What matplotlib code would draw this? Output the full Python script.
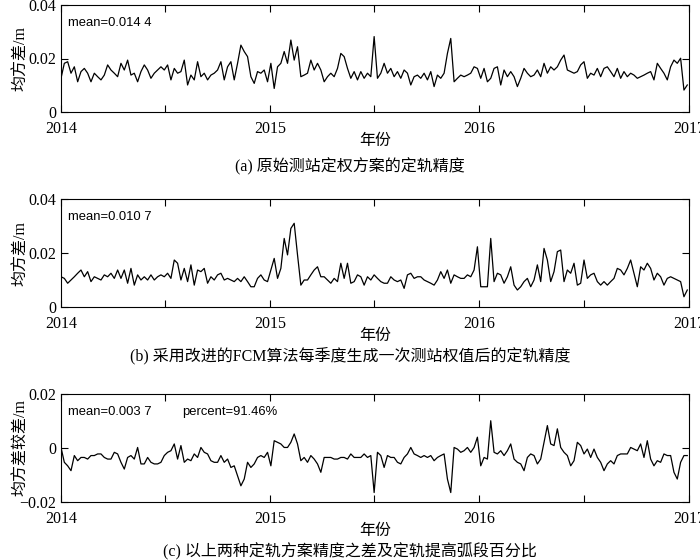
"""Orbit precision time series for the two station weighting schemes."""

import matplotlib

matplotlib.use("Agg")
import matplotlib.pyplot as plt
import numpy as np
import pandas as pd

plt.rcParams["font.family"] = ["Liberation Serif", "Noto Sans CJK SC"]
plt.rcParams["font.size"] = 10
plt.rcParams["axes.unicode_minus"] = True

rms_original_mm = [
    12.6, 18.2, 18.8, 14.5, 16.9, 11.3, 15.1, 16.3, 14.5, 11.3,
    14.5, 13.2, 12.0, 13.8, 17.6, 15.7, 14.5, 13.2, 18.2, 15.7,
    19.4, 13.8, 14.5, 11.3, 15.1, 17.6, 15.7, 12.6, 14.5, 15.7,
    16.9, 15.7, 17.6, 12.0, 16.3, 14.5, 15.1, 19.4, 10.1, 13.8,
    12.0, 18.8, 13.2, 14.5, 12.0, 13.8, 14.5, 15.7, 18.8, 12.0,
    16.9, 18.8, 12.0, 18.2, 25.0, 22.6, 20.7, 13.2, 10.7, 15.1,
    14.5, 15.7, 11.3, 18.2,
    8.8, 16.9, 18.2, 22.6, 18.2, 26.9, 19.4, 24.4, 13.2, 13.8,
    14.5, 19.4, 15.7, 18.2, 15.7, 11.3, 13.2, 14.5, 13.2, 16.3,
    21.9, 20.7, 16.3, 12.6, 15.1, 12.0, 15.1, 12.6, 14.5, 13.2,
    28.2, 12.6, 14.5, 18.2, 14.5, 16.3, 13.2, 15.1, 12.6, 15.7,
    14.5, 10.1, 13.2, 13.8, 12.6, 14.5, 12.0, 15.1, 9.5, 13.8,
    12.6, 14.5, 21.9, 27.5, 11.3, 12.6, 13.8, 13.2, 13.8, 14.5,
    16.9, 16.3, 12.6,
    16.3, 11.3, 12.6, 16.3, 16.9, 10.1, 15.7, 13.2, 15.1, 13.2,
    9.5, 12.6, 16.3, 14.5, 13.2, 13.8, 15.7, 13.2, 18.2, 14.5,
    16.9, 15.7, 16.9, 19.4, 21.3, 15.7, 15.1, 14.5, 15.1, 17.6,
    18.8, 12.6, 14.5, 13.8, 16.3, 13.2, 16.3, 16.9, 15.1, 13.2,
    16.3, 12.6, 15.1, 13.2, 14.5, 13.8, 12.6, 13.2, 13.8, 14.5,
    15.1, 12.0, 18.2, 16.3, 14.5, 12.0, 16.9, 19.4, 18.2, 20.1,
    8.2, 10.1,
]

rms_fcm_mm = [
    11.2, 10.6, 8.8, 10.0, 11.2, 12.5, 13.7, 11.2, 13.1, 9.4,
    11.2, 10.6, 10.0, 11.9, 11.2, 12.5, 10.6, 13.7, 10.6, 13.7,
    8.8, 14.3, 8.1, 11.9, 10.0, 11.2, 10.0, 11.9, 10.0, 11.2,
    11.9, 11.2, 12.5, 10.6, 17.4, 16.2, 10.0, 14.3, 9.4, 15.6,
    8.1, 13.7, 13.1, 14.3, 8.8, 11.2, 10.0, 11.9, 12.5, 10.0,
    10.6, 10.0, 9.4, 10.6, 9.4, 11.2, 9.4, 7.5, 7.5, 10.6,
    11.9, 10.0, 9.4, 13.7,
    18.0, 10.6, 14.3, 25.4, 19.3, 29.1, 31.0, 19.3, 8.1, 10.0,
    10.0, 11.9, 13.7, 14.9, 11.2, 11.2, 10.0, 8.8, 10.6, 9.4,
    16.2, 10.6, 16.2, 8.8, 9.4, 11.9, 11.2, 8.1, 11.2, 10.0,
    11.9, 10.6, 9.4, 8.8, 8.8, 11.2, 10.0, 9.4, 10.0, 6.9,
    11.9, 12.5, 10.6, 11.2, 11.2, 10.0, 9.4, 8.8, 8.1, 10.0,
    13.1, 10.6, 13.7, 8.8, 11.9, 11.2, 10.6, 10.6, 11.9, 11.2,
    13.7, 22.3, 7.5,
    7.5, 7.5, 25.4, 9.4, 12.5, 11.9, 8.8, 11.2, 14.9, 8.1,
    6.3, 7.5, 9.4, 10.6, 7.5, 10.0, 15.6, 9.4, 21.7, 17.4,
    9.4, 13.1, 20.5, 21.1, 9.4, 13.7, 12.5, 16.2, 8.1, 8.8,
    17.4, 10.6, 11.9, 12.5, 9.4, 8.1, 9.4, 8.1, 9.4, 10.6,
    14.3, 13.7, 11.9, 14.3, 17.4, 12.5, 7.5, 14.9, 13.7, 16.2,
    14.3, 10.0, 12.5, 11.2, 8.1, 10.6, 11.2, 10.6, 10.0, 9.4,
    3.8, 6.3,
]

rms_diff_mm = [
    0.2, -5.3, -6.6, -8.4, -2.8, -4.7, -3.5, -3.5, -4.1, -2.8,
    -2.8, -2.2, -2.2, -3.5, -4.1, -4.1, -1.6, -2.2, -5.3, -7.8,
    -3.5, -2.8, -4.1, 0.2, -5.9, -5.9, -3.5, -5.3, -5.9, -5.9,
    -5.3, -2.8, -1.6, -1.0, 1.5, -4.1, 0.9, -5.3, -4.1, -4.7,
    -2.2, -3.5, 0.2, -1.6, -2.2, -4.7, -5.3, -5.3, -2.8, -5.3,
    -4.1, -7.2, -6.6, -10.3, -14.0, -11.5, -5.3, -7.2, -5.9, -3.5,
    -2.8, -3.5, -1.6, -6.6, 2.7, 2.1, 1.5, 0.2, 0.2, 2.1,
    5.2, 1.5, -4.7, -3.5, -5.3, -2.8, -4.1, -5.9, -9.0, -3.5,
    -3.5, -3.5, -4.1, -4.1, -3.5, -3.5, -4.1, -2.2, -3.5, -3.5,
    -3.5, -2.2, -3.5, -2.8, -16.5, -1.6, -2.8, -7.2, -2.8, -3.5,
    -3.5, -5.3, -5.9, -3.5, -2.2, 0.2, -2.2, -2.8, -3.5, -2.8,
    -3.5, -2.8, -4.7, -3.5, -2.8, -2.2, -11.5, -16.5, 0.2, -0.4,
    -1.6, -1.0, 0.2, -1.6, 0.2, 4.0, -6.6, -3.5, -4.1, 10.1,
    -1.6, -2.2, -1.0, -2.8, -1.0, 1.5, -4.1, -5.3, -5.9, -8.4,
    -3.5, -2.2, -2.8, -5.9, -4.1, 2.1, 8.3, 1.5, 0.9, 7.1,
    0.2, -1.6, -2.8, -6.6, -4.7, 2.1, 0.9, -2.2, -0.4, -3.5,
    -0.4, -3.5, -5.3, -8.4, -5.9, -4.7, -5.9, -2.8, -2.2, -2.2,
    -2.2, 0.2, -0.4, -1.0, 1.5, -3.5, 2.7, -4.1, -6.6, -4.7,
    -5.3, -2.2, -2.8, -2.8, -9.0, -11.5, -5.3, -2.8, -2.8,
]

series = [rms_original_mm, rms_fcm_mm, rms_diff_mm]
mean_labels = ["mean=0.014 4", "mean=0.010 7", "mean=0.003 7"]
percent_label = "percent=91.46%"
ylabels = ["均方差/m", "均方差/m", "均方差较差/m"]
captions = [
    "(a) 原始测站定权方案的定轨精度",
    "(b) 采用改进的FCM算法每季度生成一次测站权值后的定轨精度",
    "(c) 以上两种定轨方案精度之差及定轨提高弧段百分比",
]
xlabel = "年份"
yticks = [[0, 0.02, 0.04], [0, 0.02, 0.04], [-0.02, 0, 0.02]]
ytick_labels = [["0", "0.02", "0.04"], ["0", "0.02", "0.04"], ["\u22120.02", "0", "0.02"]]

W, H = 700, 560
# axes boxes in pixels: left, top, right, bottom
boxes = [(61, 5, 689, 112), (61, 199, 689, 307), (61, 394, 689, 502)]
caption_y = [167, 357, 552]


def main():
    fig = plt.figure(figsize=(W / 100, H / 100), dpi=100)
    half_years = pd.date_range("2014-01-01", "2017-01-01", freq="6MS")
    xt_labels = [str(d.year) if d.month == 1 else "" for d in half_years]

    for i, values in enumerate(series):
        left, top, right, bottom = boxes[i]
        ax = fig.add_axes([left / W, 1 - bottom / H, (right - left) / W, (bottom - top) / H])
        dates = pd.date_range("2014-01-01", "2016-12-29", periods=len(values))
        ax.plot(dates, np.array(values) / 1000.0, color="black", lw=0.9)

        ax.set_xlim(pd.Timestamp("2014-01-01"), pd.Timestamp("2017-01-01"))
        ax.set_ylim(yticks[i][0], yticks[i][-1])
        ax.set_xticks(half_years)
        ax.set_xticklabels(xt_labels)
        ax.set_yticks(yticks[i])
        ax.set_yticklabels(ytick_labels[i])
        ax.tick_params(direction="in", length=5, width=0.8, top=True, right=True,
                       labelsize=11.5)
        ax.tick_params(axis="x", pad=6.5)
        ax.tick_params(axis="y", pad=3.5)
        for spine in ax.spines.values():
            spine.set_linewidth(0.8)

        ax.set_ylabel(ylabels[i], fontsize=11.5)
        ax.yaxis.set_label_coords(-0.05, 0.5)
        ax.set_xlabel(xlabel, fontsize=11.5)
        ax.xaxis.set_label_coords(0.5, -29 / (bottom - top))
        ax.xaxis.label.set_va("center")

        ax.text(7 / 628, 0.83, mean_labels[i], transform=ax.transAxes, va="center", ha="left",
                family="Liberation Sans", fontsize=9.4)
        if i == 2:
            ax.text((182 - 61) / 628, 0.83, percent_label, transform=ax.transAxes,
                    va="center", ha="left", family="Liberation Sans", fontsize=9.4)

        fig.text(0.5, 1 - caption_y[i] / H, captions[i], ha="center", va="center", fontsize=11.5)

    fig.savefig("out.png", dpi=100)
    plt.close(fig)


main()
